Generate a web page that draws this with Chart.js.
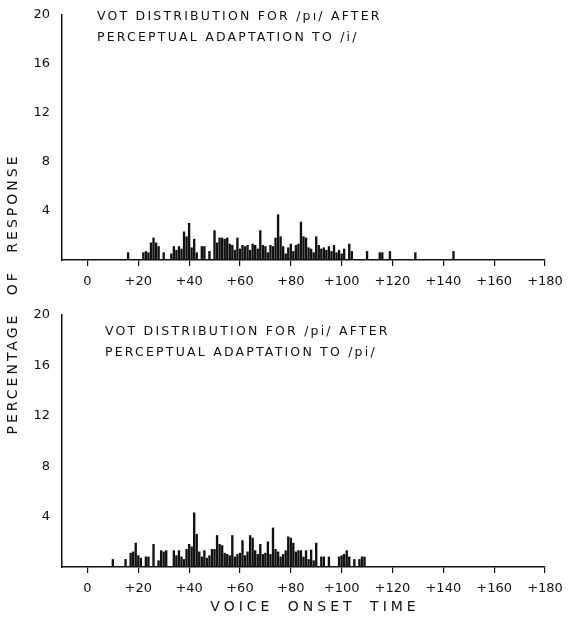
<!DOCTYPE html>
<html>
<head>
<meta charset="utf-8">
<script src="https://cdn.jsdelivr.net/npm/chart.js@4.4.1/dist/chart.umd.min.js"></script>
<style>
  body { margin: 0; background: #fff; }
  #wrap { position: relative; width: 575px; height: 620px; overflow: hidden; }
  canvas { position: absolute; left: 0; }
  .ytitle, .xtitle {
    position: absolute; font-family: "DejaVu Sans", sans-serif; color: #111;
    white-space: pre; text-align: center;
  }
  .ytitle {
    left: -138px; top: 285px; width: 300px; height: 18px; line-height: 18px;
    font-size: 14px; letter-spacing: 3px; word-spacing: 10px;
    transform: rotate(-90deg); transform-origin: 50% 50%;
  }
  .xtitle {
    left: 165px; top: 598px; width: 300px; font-size: 14px; letter-spacing: 4px; word-spacing: 6px;
  }
</style>
</head>
<body>
<div id="wrap">
  <canvas id="topChart" width="575" height="300" style="top:0"></canvas>
  <canvas id="bottomChart" width="575" height="320" style="top:300px"></canvas>
  <div class="ytitle">PERCENTAGE OF RESPONSE</div>
  <div class="xtitle">VOICE ONSET TIME</div>
</div>
<script>
// tick labels
const xTickValues = [0, 20, 40, 60, 80, 100, 120, 140, 160, 180];
const yTickValues = [4, 8, 12, 16, 20];

// top panel: adaptation to /i/  (VOT in ms, percentage of responses)
const topVot = [16, 22, 23, 24, 25, 26, 27, 28, 30, 33, 34, 35, 36, 37, 38, 39, 40, 41, 42, 43,
  45, 46, 48, 50, 51, 52, 53, 54, 55, 56, 57, 58, 59, 60, 61, 62, 63, 64, 65, 66,
  67, 68, 69, 70, 71, 72, 73, 74, 75, 76, 77, 78, 79, 80, 81, 82, 83, 84, 85, 86,
  87, 88, 89, 90, 91, 92, 93, 94, 95, 96, 97, 98, 99, 100, 101, 103, 104, 110, 115, 116,
  119, 129, 144];
const topPct = [0.6, 0.6, 0.7, 0.6, 1.4, 1.8, 1.4, 1.1, 0.6, 0.5, 1.1, 0.8, 1.1, 0.9, 2.3, 1.9, 3.0, 1.0, 1.7, 0.6,
  1.1, 1.1, 0.7, 2.4, 1.4, 1.8, 1.8, 1.7, 1.8, 1.3, 1.2, 0.8, 1.8, 0.9, 1.2, 1.1, 1.2, 0.8, 1.3, 1.2,
  0.9, 2.4, 1.2, 1.1, 0.6, 1.2, 1.1, 1.8, 3.7, 1.9, 1.1, 0.5, 1.0, 1.3, 0.7, 1.2, 1.3, 3.1, 1.9, 1.8,
  1.0, 0.9, 0.6, 1.9, 1.2, 0.9, 1.0, 0.8, 1.1, 0.7, 1.2, 0.6, 0.8, 0.5, 0.9, 1.3, 0.7, 0.7, 0.6, 0.6,
  0.7, 0.6, 0.7];

// bottom panel: adaptation to /pi/
const bottomVot = [10, 15, 17, 18, 19, 20, 21, 23, 24, 26, 28, 29, 30, 31, 34, 35, 36, 37, 38, 39,
  40, 41, 42, 43, 44, 45, 46, 47, 48, 49, 50, 51, 52, 53, 54, 55, 56, 57, 58, 59,
  60, 61, 62, 63, 64, 65, 66, 67, 68, 69, 70, 71, 72, 73, 74, 75, 76, 77, 78, 79,
  80, 81, 82, 83, 84, 85, 86, 87, 88, 89, 90, 92, 93, 95, 99, 100, 101, 102, 103, 105,
  107, 108, 109];
const bottomPct = [0.6, 0.6, 1.1, 1.2, 1.9, 0.9, 0.7, 0.8, 0.8, 1.8, 0.5, 1.3, 1.2, 1.3, 1.3, 0.9, 1.3, 0.8, 0.6, 1.4,
  1.8, 1.6, 4.3, 2.6, 1.2, 0.8, 1.3, 0.7, 0.9, 1.4, 1.4, 2.5, 1.8, 1.7, 1.1, 1.0, 0.9, 2.5, 0.8, 1.0,
  1.1, 2.1, 0.9, 1.2, 2.5, 2.3, 1.3, 1.0, 1.8, 1.0, 1.1, 2.0, 1.0, 3.1, 1.4, 1.2, 0.8, 1.0, 1.3, 2.4,
  2.3, 1.9, 1.2, 1.3, 1.3, 0.8, 1.3, 0.6, 1.35, 0.5, 1.9, 0.8, 0.8, 0.8, 0.8, 0.9, 1.0, 1.3, 0.8, 0.6,
  0.6, 0.8, 0.8];

const topTitle = ['VOT DISTRIBUTION FOR /pı/ AFTER', 'PERCEPTUAL ADAPTATION TO /i/'];
const bottomTitle = ['VOT DISTRIBUTION FOR /pi/ AFTER', 'PERCEPTUAL ADAPTATION TO /pi/'];

const ink = '#111';
const font = 'DejaVu Sans';

// panel caption drawn inside the plot area
const panelTitle = {
  id: 'panelTitle',
  afterDraw(chart, args, opts) {
    const { ctx, chartArea } = chart;
    ctx.save();
    ctx.fillStyle = ink;
    ctx.font = '12.5px "' + font + '"';
    ctx.letterSpacing = '2.2px';
    ctx.textBaseline = 'middle';
    opts.lines.forEach((line, i) => {
      ctx.fillText(line, chartArea.left + opts.dx, chartArea.top + opts.dy + i * opts.lineGap);
    });
    ctx.restore();
  }
};

function makePanel(id, vot, pct, title, xHeight, dx, dy) {
  return new Chart(document.getElementById(id), {
    type: 'bar',
    data: {
      datasets: [{
        data: vot.map((v, i) => ({ x: v, y: pct[i] })),
        backgroundColor: ink,
        barThickness: 1.7
      }]
    },
    options: {
      responsive: false,
      animation: false,
      layout: { padding: { top: 15, right: 30, left: 0, bottom: 0 } },
      plugins: {
        legend: { display: false },
        tooltip: { enabled: false },
        panelTitle: { lines: title, dx: dx, dy: dy, lineGap: 20.5 }
      },
      scales: {
        x: {
          type: 'linear',
          min: -10,
          max: 180,
          offset: false,
          afterBuildTicks: s => { s.ticks = xTickValues.map(v => ({ value: v })); },
          afterFit: s => { s.height = xHeight; },
          grid: { display: true, offset: false, drawOnChartArea: false, drawTicks: true, tickLength: 6, color: ink, lineWidth: 1.2 },
          border: { display: true, color: ink, width: 1.5 },
          ticks: {
            color: ink, font: { family: font, size: 13 }, padding: 8,
            maxRotation: 0, autoSkip: false,
            callback: v => (v === 0 ? '0' : '+' + v)
          }
        },
        y: {
          min: 0,
          max: 20,
          afterBuildTicks: s => { s.ticks = yTickValues.map(v => ({ value: v })); },
          afterFit: s => { s.width = 62; },
          grid: { display: false },
          border: { display: true, color: ink, width: 1.5 },
          ticks: { color: ink, font: { family: font, size: 13 }, padding: 4 }
        }
      }
    },
    plugins: [panelTitle]
  });
}

makePanel('topChart', topVot, topPct, topTitle, 40, 35, 2);
makePanel('bottomChart', bottomVot, bottomPct, bottomTitle, 53, 43, 17);
</script>
</body>
</html>
